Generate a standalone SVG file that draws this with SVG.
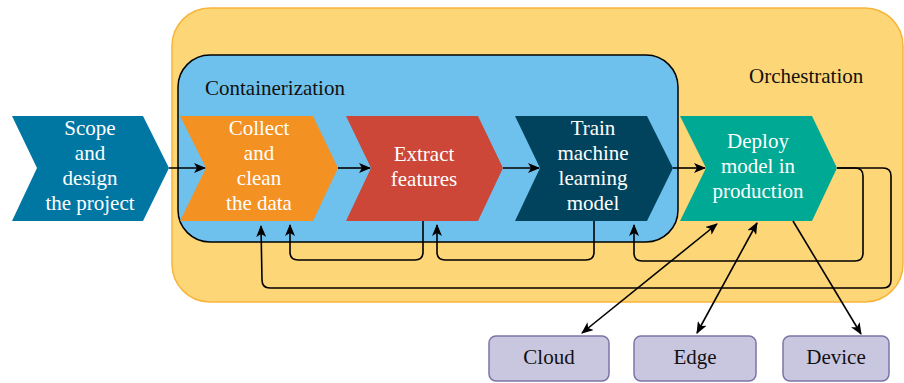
<svg xmlns="http://www.w3.org/2000/svg" width="904" height="383" viewBox="0 0 904 383">
<style>
.lbl{font-family:"Liberation Serif","Times New Roman",serif;font-size:21px;fill:#fff;text-anchor:middle}
.grp{font-family:"Liberation Serif","Times New Roman",serif;font-size:21px;fill:#111}
.box{fill:#C9C6DF;stroke:#7B74A6;stroke-width:1.5}
.btxt{font-family:"Liberation Serif","Times New Roman",serif;font-size:21px;fill:#111;text-anchor:middle}
.ln{fill:none;stroke:#000;stroke-width:1.6}
</style>
<defs>
<marker id="ah" markerUnits="userSpaceOnUse" markerWidth="12" markerHeight="10" refX="11" refY="5" orient="auto-start-reverse">
<path d="M0,0 L12,5 L0,10 L3,5 Z" fill="#000"/>
</marker>
</defs>
<g id="orchestration">
<rect x="172" y="8" width="731" height="294" rx="38" fill="#FDD678" stroke="#F8B53A" stroke-width="1.5"/>
<text class="grp" x="749" y="83">Orchestration</text>
</g>
<g id="containerization">
<rect x="178" y="55" width="500" height="187" rx="32" fill="#6EC1ED" stroke="#000" stroke-width="1.5"/>
<text class="grp" x="205" y="95">Containerization</text>
</g>
<g id="scope">
<polygon points="12,116 143,116 169,168 143,221 12,221 37,168" fill="#0077A3"/>
<text class="lbl" x="90"><tspan x="90" y="135">Scope</tspan><tspan x="90" y="160">and</tspan><tspan x="90" y="185">design</tspan><tspan x="90" y="210">the project</tspan></text>
</g>
<g id="collect">
<polygon points="180,116 313,116 338,168 313,221 180,221 206,168" fill="#F39123"/>
<text class="lbl"><tspan x="259" y="135">Collect</tspan><tspan x="259" y="160">and</tspan><tspan x="259" y="185">clean</tspan><tspan x="259" y="210">the data</tspan></text>
</g>
<g id="extract">
<polygon points="346,116 478,116 503,168 478,221 346,221 371,168" fill="#CC4737"/>
<text class="lbl"><tspan x="424" y="161">Extract</tspan><tspan x="424" y="186">features</tspan></text>
</g>
<g id="train">
<polygon points="515,116 647,116 673,168 647,221 515,221 540,168" fill="#01435D"/>
<text class="lbl"><tspan x="593" y="135">Train</tspan><tspan x="593" y="160">machine</tspan><tspan x="593" y="185">learning</tspan><tspan x="593" y="210">model</tspan></text>
</g>
<g id="deploy">
<polygon points="680,116 812,116 837,168 812,221 680,221 706,168" fill="#00A993"/>
<text class="lbl"><tspan x="758" y="148">Deploy</tspan><tspan x="758" y="173">model in</tspan><tspan x="758" y="198">production</tspan></text>
</g>
<g id="cloud">
<rect class="box" x="489" y="336" width="120" height="45" rx="7"/>
<text class="btxt" x="549" y="364">Cloud</text>
</g>
<g id="edge">
<rect class="box" x="634" y="336" width="122" height="45" rx="7"/>
<text class="btxt" x="695" y="364">Edge</text>
</g>
<g id="device">
<rect class="box" x="783" y="336" width="106" height="45" rx="7"/>
<text class="btxt" x="836" y="364">Device</text>
</g>
<g id="connectors">
<path class="ln" d="M169,168 H205" marker-end="url(#ah)"/>
<path class="ln" d="M338,168 H370" marker-end="url(#ah)"/>
<path class="ln" d="M503,168 H539" marker-end="url(#ah)"/>
<path class="ln" d="M673,168 H705" marker-end="url(#ah)"/>
<path class="ln" d="M423,221 V252 Q423,260 415,260 H298 Q290,260 290,252 V225" marker-end="url(#ah)"/>
<path class="ln" d="M594,221 V252 Q594,260 586,260 H445 Q437,260 437,252 V225" marker-end="url(#ah)"/>
<path class="ln" d="M837,168 H855 Q863,168 863,176 V253 Q863,261 855,261 H642 Q634,261 634,253 V225" marker-end="url(#ah)"/>
<path class="ln" d="M837,168 H883 Q891,168 891,176 V280 Q891,288 883,288 H270 Q262,288 262,280 L261,226" marker-end="url(#ah)"/>
<path class="ln" d="M717,224 L582,333" marker-start="url(#ah)" marker-end="url(#ah)"/>
<path class="ln" d="M757,223 L697,333" marker-start="url(#ah)" marker-end="url(#ah)"/>
<path class="ln" d="M793,221 L861,334" marker-end="url(#ah)"/>
</g>
</svg>
